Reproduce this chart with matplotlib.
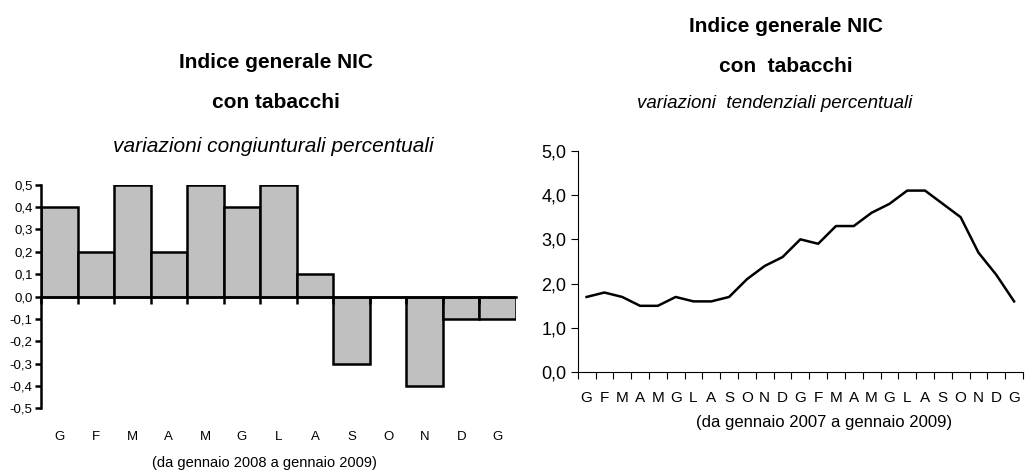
import matplotlib
matplotlib.use("Agg")
import matplotlib.pyplot as plt
from matplotlib.transforms import blended_transform_factory

# ---- data ----
left_months = ["G", "F", "M", "A", "M", "G", "L", "A", "S", "O", "N", "D", "G"]
left_values = [0.4, 0.2, 0.5, 0.2, 0.5, 0.4, 0.5, 0.1, -0.3, 0.0, -0.4, -0.1, -0.1]
left_yticks = [-0.5, -0.4, -0.3, -0.2, -0.1, 0.0, 0.1, 0.2, 0.3, 0.4, 0.5]

right_months = ["G", "F", "M", "A", "M", "G", "L", "A", "S", "O", "N", "D",
                "G", "F", "M", "A", "M", "G", "L", "A", "S", "O", "N", "D", "G"]
right_values = [1.7, 1.8, 1.7, 1.5, 1.5, 1.7, 1.6, 1.6, 1.7, 2.1, 2.4, 2.6,
                3.0, 2.9, 3.3, 3.3, 3.6, 3.8, 4.1, 4.1, 3.8, 3.5, 2.7, 2.2, 1.6]
right_yticks = [0, 1, 2, 3, 4, 5]

FONT = ["Liberation Sans", "DejaVu Sans"]
plt.rcParams["font.family"] = FONT

def fmt(v, nd=1):
    return f"{v:.{nd}f}".replace(".", ",")

W, H = 1025, 472
fig = plt.figure(figsize=(W / 100, H / 100), dpi=100)

# ---- left chart ----
axL = fig.add_axes([41 / W, 1 - 408.3 / H, 475 / W, 223.6 / H])
xs = list(range(len(left_values)))
axL.bar(xs, left_values, width=1.0, color="#c0c0c0", edgecolor="black", linewidth=1.8)
axL.set_xlim(-0.5, len(left_values) - 0.5)
axL.set_ylim(-0.5, 0.5)
for s in ["top", "right"]:
    axL.spines[s].set_visible(False)
axL.spines["left"].set_linewidth(1.8)
axL.spines["bottom"].set_position(("data", 0))
axL.spines["bottom"].set_linewidth(1.8)
axL.set_yticks(left_yticks)
axL.set_yticklabels([fmt(v) for v in left_yticks], fontsize=9.5)
axL.tick_params(axis="y", direction="out", length=4, width=1.8, pad=2)
axL.set_xticks([x - 0.5 for x in range(len(left_values))])
axL.set_xticklabels([])
axL.tick_params(axis="x", direction="out", length=5, width=1.8)
trL = blended_transform_factory(axL.transData, fig.transFigure)
for x, m in zip(xs, left_months):
    axL.text(x, 1 - 437 / H, m, transform=trL, ha="center", va="center", fontsize=9.5)
fig.text(264 / W, 1 - 463 / H, "(da gennaio 2008 a gennaio 2009)", ha="center", va="center",
         fontsize=10.5)

fig.text(276 / W, 1 - 63 / H, "Indice generale NIC", ha="center", va="center",
         fontweight="bold", fontsize=15)
fig.text(276 / W, 1 - 103 / H, "con tabacchi", ha="center", va="center",
         fontweight="bold", fontsize=15)
fig.text(273 / W, 1 - 146 / H, "variazioni congiunturali percentuali", ha="center", va="center",
         fontstyle="italic", fontsize=15)

# ---- right chart ----
axR = fig.add_axes([577.7 / W, 1 - 372.3 / H, 445.3 / W, 221.6 / H])
xr = list(range(len(right_values)))
axR.plot(xr, right_values, color="black", linewidth=1.8)
axR.set_xlim(-0.5, len(right_values) - 0.5)
axR.set_ylim(0, 5)
for s in ["top", "right"]:
    axR.spines[s].set_visible(False)
axR.spines["left"].set_linewidth(0.8)
axR.spines["bottom"].set_linewidth(0.8)
axR.set_yticks(right_yticks)
axR.set_yticklabels([fmt(v) for v in right_yticks], fontsize=13)
axR.tick_params(axis="y", direction="out", length=5, width=0.8, pad=3)
axR.set_xticks([x - 0.5 for x in range(len(right_values) + 1)])
axR.set_xticklabels([])
axR.tick_params(axis="x", direction="out", length=5, width=0.8)
trR = blended_transform_factory(axR.transData, fig.transFigure)
for x, m in zip(xr, right_months):
    axR.text(x, 1 - 398 / H, m, transform=trR, ha="center", va="center", fontsize=11)
fig.text(824 / W, 1 - 423 / H, "(da gennaio 2007 a gennaio 2009)", ha="center", va="center",
         fontsize=12)

fig.text(786 / W, 1 - 26 / H, "Indice generale NIC", ha="center", va="center",
         fontweight="bold", fontsize=15)
fig.text(786 / W, 1 - 66 / H, "con  tabacchi", ha="center", va="center",
         fontweight="bold", fontsize=15)
fig.text(775 / W, 1 - 104 / H, "variazioni  tendenziali percentuali", ha="center", va="center",
         fontstyle="italic", fontsize=13.5)

fig.savefig("out.png", dpi=100)
